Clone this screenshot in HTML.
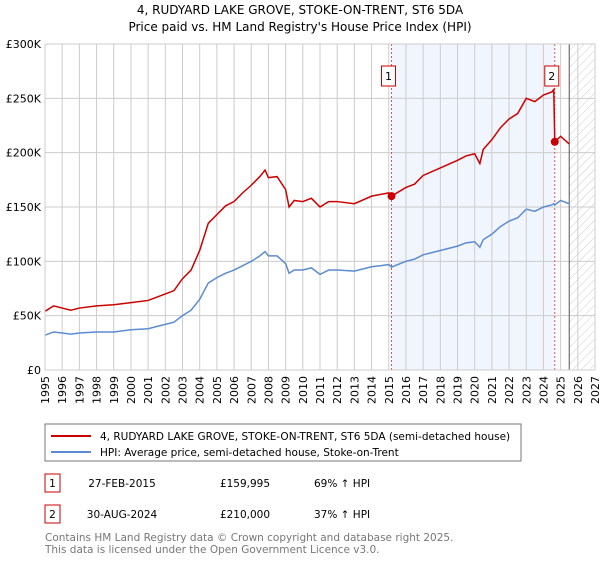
<!DOCTYPE html>
<html><head><meta charset="utf-8"><style>
body{margin:0;background:#fff;font-family:"DejaVu Sans","Liberation Sans",sans-serif;}
svg text{font-family:"DejaVu Sans","Liberation Sans",sans-serif;}
</style></head><body>
<svg id="c" width="600" height="560" viewBox="0 0 600 560" xmlns="http://www.w3.org/2000/svg">
<defs><pattern id="hatch" width="6" height="6" patternUnits="userSpaceOnUse" patternTransform="rotate(45)"><line x1="0" y1="0" x2="0" y2="6" stroke="#ccc" stroke-width="1"/></pattern></defs>
<text x="300" y="14" text-anchor="middle" font-size="12" fill="#000">4, RUDYARD LAKE GROVE, STOKE-ON-TRENT, ST6 5DA</text>
<text x="300" y="31" text-anchor="middle" font-size="12" fill="#000">Price paid vs. HM Land Registry's House Price Index (HPI)</text>
<g id="plot"></g>
<g>
<rect x="45" y="424" width="476" height="37" fill="#fff" stroke="#777"/>
<line x1="51" y1="436" x2="91" y2="436" stroke="#cc0000" stroke-width="2"/>
<text x="100" y="440" font-size="10.5">4, RUDYARD LAKE GROVE, STOKE-ON-TRENT, ST6 5DA (semi-detached house)</text>
<line x1="51" y1="452" x2="91" y2="452" stroke="#5b8ccf" stroke-width="2"/>
<text x="100" y="456" font-size="10.5">HPI: Average price, semi-detached house, Stoke-on-Trent</text>
</g>
<g font-size="10.5">
<rect x="45" y="474" width="15" height="18" fill="#fff" stroke="#cc0000"/>
<text x="52.5" y="487" text-anchor="middle">1</text>
<text x="122" y="487" text-anchor="middle">27-FEB-2015</text>
<text x="245" y="487" text-anchor="middle">£159,995</text>
<text x="314" y="487">69% ↑ HPI</text>
<rect x="45" y="505" width="15" height="18" fill="#fff" stroke="#cc0000"/>
<text x="52.5" y="518" text-anchor="middle">2</text>
<text x="122" y="518" text-anchor="middle">30-AUG-2024</text>
<text x="245" y="518" text-anchor="middle">£210,000</text>
<text x="314" y="518">37% ↑ HPI</text>
</g>
<text x="45" y="541" font-size="10.5" fill="#777">Contains HM Land Registry data © Crown copyright and database right 2025.</text>
<text x="45" y="553" font-size="10.5" fill="#777">This data is licensed under the Open Government Licence v3.0.</text>
</svg>
<script>
const years=[1995,1995.5,1996,1996.5,1997,1998,1999,2000,2001,2001.5,2002,2002.5,2003,2003.5,2004,2004.5,2005,2005.5,2006,2006.5,2007,2007.5,2007.8,2008,2008.5,2009,2009.2,2009.5,2010,2010.5,2011,2011.5,2012,2013,2014,2015,2015.16,2016,2016.5,2017,2018,2019,2019.5,2020,2020.3,2020.5,2021,2021.5,2022,2022.5,2023,2023.5,2024,2024.5,2024.6,2024.66,2025,2025.5];
const hpiValues=[32,35,34,33,34,35,35,37,38,40,42,44,50,55,65,80,85,89,92,96,100,105,109,105,105,98,89,92,92,94,88,92,92,91,95,97,94.7,100,102,106,110,114,117,118,113,120,125,132,137,140,148,146,150,152,153,152,156,153];
const propValues=[54,59,57,55,57,59,60,62,64,67,70,73,84,92,110,135,143,151,155,163,170,178,184,177,178,166,150,156,155,158,150,155,155,153,160,163,160,168,171,179,186,193,197,199,190,203,212,223,231,236,250,247,253,256,258,210,215,208];
const saleYears=[2015.16,2024.66];
const salePrices=[160,210];
const saleLabels=["1","2"];
const yTicks=[0,50,100,150,200,250,300];
const yTickLabels=["£0","£50K","£100K","£150K","£200K","£250K","£300K"];
const xTicks=[1995,1996,1997,1998,1999,2000,2001,2002,2003,2004,2005,2006,2007,2008,2009,2010,2011,2012,2013,2014,2015,2016,2017,2018,2019,2020,2021,2022,2023,2024,2025,2026,2027];
const dataEnd=2025.5;

const X0=45,X1=595,Y0=370,Y1=44;
const x=v=>X0+(v-1995)/32*(X1-X0);
const y=v=>Y0-v/300*(Y0-Y1);
const NS="http://www.w3.org/2000/svg";
const g=document.getElementById('plot');
function mk(t,a){const e=document.createElementNS(NS,t);for(const k in a)e.setAttribute(k,a[k]);g.appendChild(e);return e;}

let e=mk('rect',{x:x(saleYears[0]),y:Y1,width:x(saleYears[1])-x(saleYears[0]),height:Y0-Y1,fill:'#eef3fd',opacity:0.8});


e=mk('rect',{x:x(dataEnd),y:Y1,width:X1-x(dataEnd),height:Y0-Y1,fill:'url(#hatch)'});


xTicks.forEach(t=>{
  e=mk('line',{x1:x(t),x2:x(t),y1:Y1,y2:Y0,stroke:'#ccc','stroke-width':1});
  
  
  e=mk('text',{x:x(t)+4,y:Y0+6,'font-size':11,'text-anchor':'end',transform:`rotate(-90 ${x(t)+4} ${Y0+6})`});
  e.textContent=t;
  
  
});
yTicks.forEach((t,i)=>{
  e=mk('line',{x1:X0,x2:X1,y1:y(t),y2:y(t),stroke:'#ccc','stroke-width':1});
  
  
  e=mk('text',{x:X0-4,y:y(t)+4,'font-size':11,'text-anchor':'end'});
  e.textContent=yTickLabels[i];
  
  
});
e=mk('line',{x1:x(dataEnd),x2:x(dataEnd),y1:Y1,y2:Y0,stroke:'#555','stroke-width':1});


saleYears.forEach((s,i)=>{
  e=mk('line',{x1:x(s),x2:x(s),y1:Y1,y2:Y0,stroke:'#e05050','stroke-width':1,'stroke-dasharray':'2,2'});
  
  
});
e=mk('polyline',{points:years.map((v,i)=>x(v)+','+y(hpiValues[i])).join(' '),fill:'none',stroke:'#5b8ccf','stroke-width':1.5});


e=mk('polyline',{points:years.map((v,i)=>x(v)+','+y(propValues[i])).join(' '),fill:'none',stroke:'#cc0000','stroke-width':1.5});


saleYears.forEach((s,i)=>{
  e=mk('circle',{cx:x(s),cy:y(salePrices[i]),r:4,fill:'#cc0000'});
  
  
  e=mk('rect',{x:x(s)-10,y:66,width:14,height:20,fill:'#fff',stroke:'#cc0000'});
  
  
  e=mk('text',{x:x(s)-3,y:80,'font-size':11,'text-anchor':'middle'});
  e.textContent=saleLabels[i];
  
  
});
e=mk('rect',{x:X0,y:Y1,width:X1-X0,height:Y0-Y1,fill:'none',stroke:'#ccc'});


</script>
</body></html>
